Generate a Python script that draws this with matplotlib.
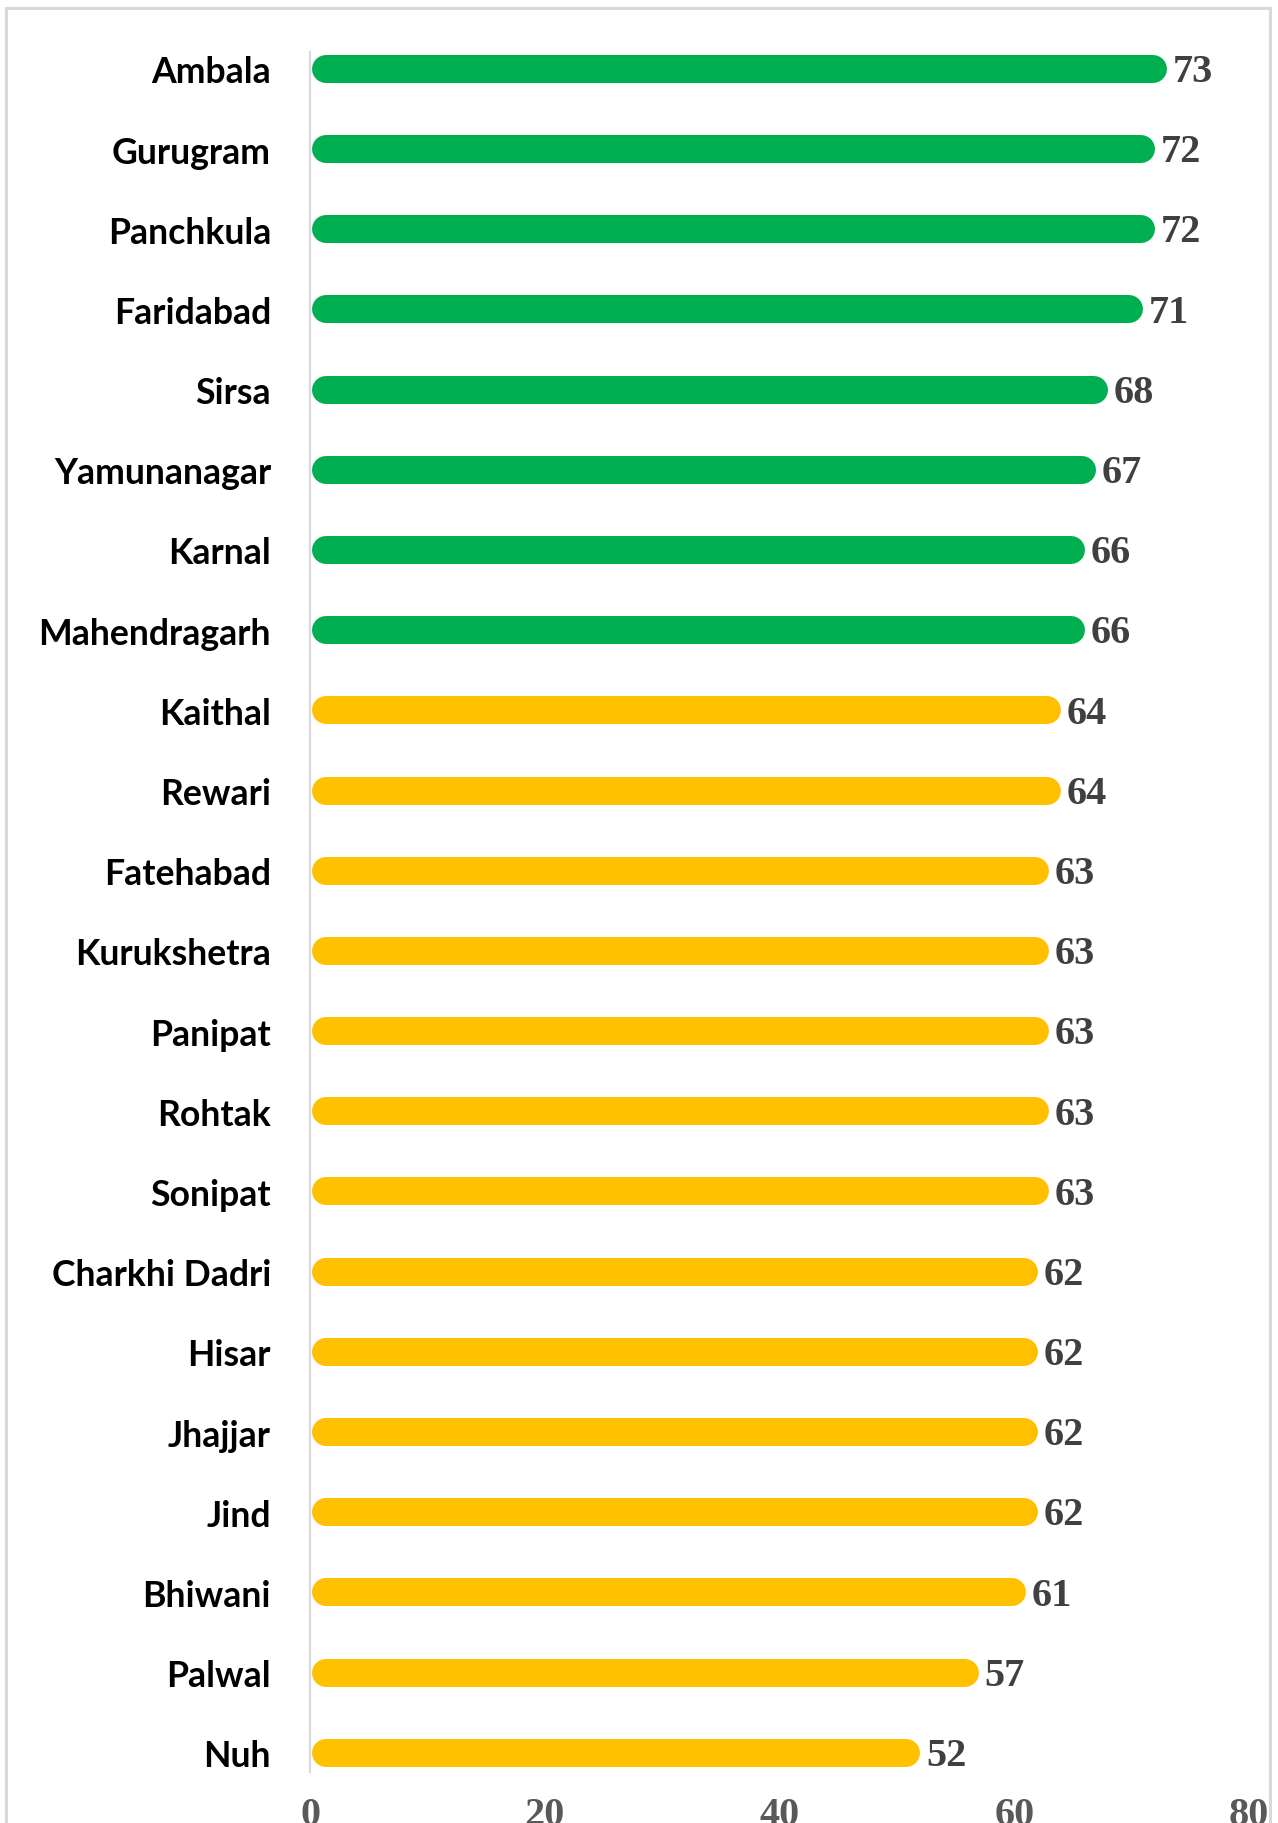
import matplotlib.pyplot as plt
from matplotlib.patches import Rectangle

# Data
districts = ["Ambala", "Gurugram", "Panchkula", "Faridabad", "Sirsa", "Yamunanagar",
             "Karnal", "Mahendragarh", "Kaithal", "Rewari", "Fatehabad", "Kurukshetra",
             "Panipat", "Rohtak", "Sonipat", "Charkhi Dadri", "Hisar", "Jhajjar", "Jind",
             "Bhiwani", "Palwal", "Nuh"]
scores = [73, 72, 72, 71, 68, 67, 66, 66, 64, 64, 63, 63, 63, 63, 63, 62, 62, 62, 62, 61, 57, 52]
threshold = 65  # green at or above, yellow below
xticks = [0, 20, 40, 60, 80]

GREEN = "#00B050"
YELLOW = "#FFC000"

W, H, DPI = 1278, 1824, 100
fig = plt.figure(figsize=(W / DPI, H / DPI), dpi=DPI)
ax = fig.add_axes([310 / W, 1 - 1773 / H, (1249 - 310) / W, (1773 - 53) / H])

ax.set_xlim(0, 80)
ax.set_ylim(len(districts) - 1 + 0.24, -0.21)

# bar thickness in px -> rounded line caps
bar_px = 28
lw = bar_px * 72 / DPI
px_per_unit = ax.transData.transform((1, 0))[0] - ax.transData.transform((0, 0))[0]
r = (bar_px / 2) / px_per_unit
start = 2 / px_per_unit

for i, (name, v) in enumerate(zip(districts, scores)):
    col = GREEN if v >= threshold else YELLOW
    ax.plot([start + r, v - r], [i, i], color=col, lw=lw, solid_capstyle="round")
    ax.annotate(str(v), (v, i), xytext=(4, -2), textcoords="offset points",
                ha="left", va="center", fontsize=29, fontweight="bold",
                family="Liberation Serif", color="#404040")

ax.set_yticks(range(len(districts)))
ax.set_yticklabels(districts, fontsize=25.7, fontweight="bold", family="Lato", color="black")
ax.set_xticks(xticks)
ax.set_xticklabels([str(t) for t in xticks], fontsize=29, fontweight="bold",
                   family="Liberation Serif", color="#595959")
ax.tick_params(axis="y", length=0, pad=28)
ax.tick_params(axis="x", length=0, pad=17)

for s in ["top", "right", "bottom"]:
    ax.spines[s].set_visible(False)
ax.spines["left"].set_color("#D9D9D9")
ax.spines["left"].set_linewidth(1.6)

# outer frame
fig.patches.append(Rectangle((6 / W, -0.01), (1270 - 6) / W, 1 - 9 / H + 0.01,
                             transform=fig.transFigure, fill=False,
                             edgecolor="#D9D9D9", linewidth=2.2))

fig.savefig("out.png", dpi=DPI)
